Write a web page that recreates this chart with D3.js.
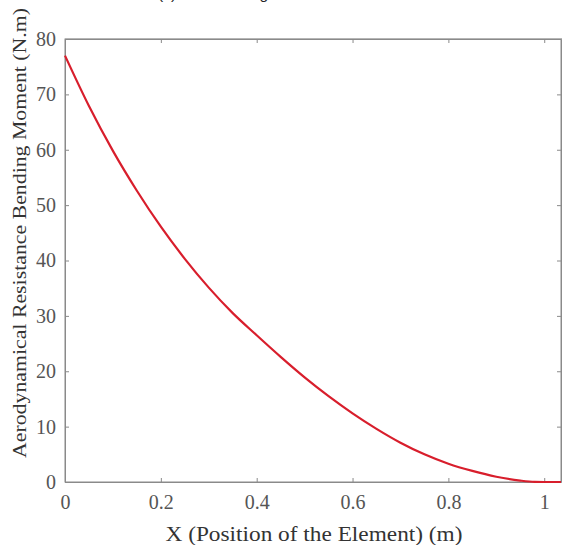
<!DOCTYPE html>
<html>
<head>
<meta charset="utf-8">
<script src="https://cdn.jsdelivr.net/npm/d3@7"></script>
<style>
  body { margin: 0; background: #fff; }
  text { font-family: "Liberation Serif", "Times New Roman", serif; }
</style>
</head>
<body>
<script>
// values
let posX   = [0, 0.05, 0.1, 0.15, 0.2, 0.25, 0.3, 0.35, 0.4, 0.45, 0.5, 0.55, 0.6, 0.65, 0.7, 0.75, 0.8, 0.85, 0.9, 0.95, 0.98, 1.0, 1.035];
let moment = [77, 67.9, 59.8, 52.6, 46.1, 40.3, 35.1, 30.5, 26.5, 22.6, 18.9, 15.5, 12.4, 9.6, 7.1, 5.0, 3.3, 2.0, 0.95, 0.25, 0.02, 0, 0];
let xTicks = [0, 0.2, 0.4, 0.6, 0.8, 1];
let yTicks = [0, 10, 20, 30, 40, 50, 60, 70, 80];

let width = 562,
    height = 545;
let mLeft = 65, mRight = 561, mTop = 39, mBottom = 482;

let svg = d3.select("body")
  .append("svg")
  .attr("width", width)
  .attr("height", height);

let x = d3.scaleLinear().domain([0, 1.035]).range([mLeft, mRight]);
let y = d3.scaleLinear().domain([0, 80]).range([mBottom, mTop]);

// caption, cut off by the top edge as in the reference
svg.append("text")
  .attr("x", 158)
  .attr("y", -1)
  .attr("font-size", 15.5)
  .attr("fill", "#222")
  .style("font-family", "Liberation Sans, Arial, sans-serif")
  .text("(c) The Bending Moment");

let axisColor = "#8a8a8a";

// box
svg.append("rect")
  .attr("x", mLeft).attr("y", mTop)
  .attr("width", mRight - mLeft).attr("height", mBottom - mTop)
  .attr("fill", "none")
  .attr("stroke", axisColor)
  .attr("stroke-width", 1);
svg.append("line")
  .attr("x1", mLeft).attr("x2", width)
  .attr("y1", mTop).attr("y2", mTop)
  .attr("stroke", "#b5b5b5").attr("stroke-width", 2);

let xAxis = svg.append("g")
  .attr("transform", "translate(0," + mBottom + ")")
  .call(d3.axisBottom(x).tickValues(xTicks).tickSizeInner(-4).tickSizeOuter(0)
    .tickFormat(d3.format("")));
let xTop = svg.append("g")
  .attr("transform", "translate(0," + mTop + ")")
  .call(d3.axisTop(x).tickValues(xTicks).tickSizeInner(-4).tickSizeOuter(0).tickFormat(""));
let yAxis = svg.append("g")
  .attr("transform", "translate(" + mLeft + ",0)")
  .call(d3.axisLeft(y).tickValues(yTicks).tickSizeInner(-4).tickSizeOuter(0));
let yRight = svg.append("g")
  .attr("transform", "translate(" + mRight + ",0)")
  .call(d3.axisRight(y).tickValues(yTicks).tickSizeInner(-4).tickSizeOuter(0).tickFormat(""));

[xAxis, xTop, yAxis, yRight].forEach(function(g){
  g.select(".domain").attr("stroke", axisColor);
  g.selectAll(".tick line").attr("stroke", axisColor);
  g.selectAll(".tick text")
    .attr("font-size", 20)
    .attr("fill", "#555")
    .style("font-family", "Liberation Serif, Times New Roman, serif");
});
xAxis.selectAll(".tick text").attr("y", 13).attr("dy", "0.71em");
yAxis.selectAll(".tick text").attr("x", -9);

// curve
let line = d3.line()
  .x(function(d, i){ return x(posX[i]); })
  .y(function(d){ return y(d); })
  .curve(d3.curveMonotoneX);

svg.append("path")
  .datum(moment)
  .attr("d", line)
  .attr("fill", "none")
  .attr("stroke", "#d81e2c")
  .attr("stroke-width", 2.2);

// axis labels
svg.append("text")
  .attr("x", 314)
  .attr("y", 541)
  .attr("text-anchor", "middle")
  .attr("font-size", 21)
  .attr("fill", "#333")
  .attr("textLength", 297)
  .attr("lengthAdjust", "spacingAndGlyphs")
  .text("X (Position of the Element) (m)");

svg.append("text")
  .attr("transform", "translate(26,233) rotate(-90)")
  .attr("text-anchor", "middle")
  .attr("font-size", 19.5)
  .attr("fill", "#333")
  .attr("textLength", 450)
  .attr("lengthAdjust", "spacingAndGlyphs")
  .text("Aerodynamical Resistance Bending Moment (N.m)");
</script>
</body>
</html>
